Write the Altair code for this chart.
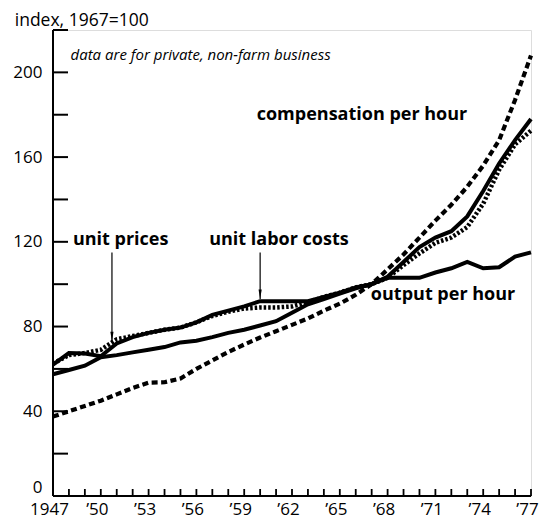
import altair as alt
import pandas as pd

years = list(range(1947, 1978))
output_per_hour = [57.5, 59.5, 61.5, 65.5, 66.5, 67.8, 69, 70.3, 72.5, 73.3, 75, 77, 78.5, 80.5, 82.5,
                   86.5, 90.5, 93, 95.5, 98, 100, 103, 103, 103, 105.5, 107.5, 110.5, 107.5, 108, 113, 115]
unit_labor_costs = [62, 67.5, 67.3, 66, 72, 75, 77, 78.5, 79.5, 82, 85.5, 87.5, 89.5, 92, 92,
                    92, 92, 94, 96, 98.5, 100, 103.5, 110.5, 117.5, 122, 125, 132, 144, 157, 168, 178]
unit_prices = [62.5, 66.5, 67.5, 69, 74, 75.5, 77, 78.5, 79.5, 82, 85, 87, 88.5, 89, 89,
               89.5, 91.5, 94, 96, 98.5, 100, 103, 109, 114.5, 119.5, 122, 127, 138, 154, 166, 172.5]
compensation_per_hour = [37.5, 40, 42.5, 45, 48, 51, 53.5, 53.7, 55.5, 60, 64, 68, 71.5, 74.8, 77.8,
                         80.8, 83.8, 87.5, 90.8, 95, 100, 107, 114, 122, 130, 137.5, 146, 156, 168, 187, 208]

x_label_years = years[::3]
x_label_texts = ["1947", "\u201950", "\u201953", "\u201956", "\u201959", "\u201962",
                 "\u201965", "\u201968", "\u201971", "\u201974", "\u201977"]
y_domain = [0, 220]
y_tick_values = list(range(0, 221, 20))
y_label_values = [0, 40, 80, 120, 160, 200]

title_text = "index, 1967=100"
title_pos = (1944.6, 222.0)
note_text = "data are for private, non-farm business"
note_pos = (1948.1, 206.0)

label_texts = ["compensation per hour", "unit prices", "unit labor costs", "output per hour"]
label_years = [1973.0, 1948.25, 1956.8, 1966.95]
label_values = [177.4, 118.4, 118.4, 92.5]
label_aligns = ["right", "left", "left", "left"]

arrow_years = [1950.7, 1960.0]
arrow_from = [115.0, 115.0]
arrow_to = [73.0, 93.0]

FONT = "Open Sans"
W, H = 478, 466
Y_TICK_PX, X_TICK_PX = 15, 7
y_tick_len = Y_TICK_PX * (years[-1] - years[0]) / W        # in years
x_tick_len = X_TICK_PX * (y_domain[1] - y_domain[0]) / H   # in index units

rows = []
for name, vals in [("output per hour", output_per_hour), ("unit labor costs", unit_labor_costs),
                   ("unit prices", unit_prices), ("compensation per hour", compensation_per_hour)]:
    for yr, v in zip(years, vals):
        rows.append({"year": yr, "value": v, "series": name})
df = pd.DataFrame(rows)

x_expr = " : ".join(f"datum.value == {y} ? '{t}'" for y, t in zip(x_label_years, x_label_texts)) + " : ''"
y_expr = "indexof([" + ",".join(str(v) for v in y_label_values) + "], datum.value) >= 0 ? datum.label : ''"

x_axis = alt.Axis(values=years, labelExpr=x_expr, title=None, grid=False, domain=False, ticks=False,
                  labelPadding=5, labelFontSize=17, labelFont=FONT, labelColor="black",
                  labelOffset=-4, labelFlush=False, labelOverlap=False)
y_axis = alt.Axis(values=y_tick_values, labelExpr=y_expr, title=None, grid=False, domain=False, ticks=False,
                  labelPadding=11, labelFontSize=17, labelFont=FONT, labelColor="black",
                  labelBaseline={"condition": {"test": "datum.value == 0", "value": "bottom"},
                                 "value": "middle"},
                  labelFlush=False, labelOverlap=False)

xs = alt.Scale(domain=[years[0], years[-1]], nice=False, zero=False)
ys = alt.Scale(domain=y_domain, nice=False, zero=False)
X = alt.X("year:Q", scale=xs, axis=x_axis)
Y = alt.Y("value:Q", scale=ys, axis=y_axis)

base = alt.Chart(df)

comp = base.transform_filter(alt.datum.series == "compensation per hour").mark_line(
    color="black", strokeWidth=4.2, strokeDash=[6, 3.5], strokeCap="butt").encode(x=X, y=Y)
prices = base.transform_filter(alt.datum.series == "unit prices").mark_line(
    color="black", strokeWidth=4.5, strokeDash=[2.5, 2], strokeCap="butt").encode(x=X, y=Y)
ulc = base.transform_filter(alt.datum.series == "unit labor costs").mark_line(
    color="black", strokeWidth=4).encode(x=X, y=Y)
oph = base.transform_filter(alt.datum.series == "output per hour").mark_line(
    color="black", strokeWidth=4).encode(x=X, y=Y)

# axis lines
dom_df = pd.DataFrame([
    {"year": years[0], "year2": years[-1], "value": y_domain[0], "value2": y_domain[0]},
    {"year": years[0], "year2": years[0], "value": y_domain[0], "value2": y_domain[1]},
])
domains = alt.Chart(dom_df).mark_rule(color="black", strokeWidth=2).encode(
    x=X, x2="year2:Q", y=Y, y2="value2:Q")

# y ticks pointing right, into the plot
yt_df = pd.DataFrame({"year": [years[0]] * len(y_tick_values),
                      "year2": [years[0] + y_tick_len] * len(y_tick_values),
                      "value": y_tick_values})
y_ticks = alt.Chart(yt_df).mark_rule(color="black", strokeWidth=2).encode(
    x=X, x2="year2:Q", y=Y)

# x ticks pointing up, into the plot
xt_df = pd.DataFrame({"year": years, "value": [y_domain[0]] * len(years),
                      "value2": [y_domain[0] + x_tick_len] * len(years)})
x_ticks = alt.Chart(xt_df).mark_rule(color="black", strokeWidth=1.8).encode(
    x=X, y=Y, y2="value2:Q")

lab_df = pd.DataFrame({"year": label_years, "value": label_values, "text": label_texts, "align": label_aligns})
labels_right = alt.Chart(lab_df).transform_filter(alt.datum.align == "right").mark_text(
    font=FONT, fontSize=18, fontWeight="bold", align="right", baseline="alphabetic", color="black").encode(
    x=X, y=Y, text="text:N")
labels_left = alt.Chart(lab_df).transform_filter(alt.datum.align == "left").mark_text(
    font=FONT, fontSize=18, fontWeight="bold", align="left", baseline="alphabetic", color="black").encode(
    x=X, y=Y, text="text:N")

note_df = pd.DataFrame({"year": [note_pos[0]], "value": [note_pos[1]], "text": [note_text]})
note = alt.Chart(note_df).mark_text(font=FONT, fontSize=15, fontStyle="italic", align="left",
                                    baseline="alphabetic", color="black").encode(x=X, y=Y, text="text:N")

title_df = pd.DataFrame({"year": [title_pos[0]], "value": [title_pos[1]], "text": [title_text]})
title = alt.Chart(title_df).mark_text(font=FONT, fontSize=17.5, align="left", baseline="alphabetic",
                                      color="black").encode(x=X, y=Y, text="text:N")

arr_df = pd.DataFrame({"year": arrow_years, "value": arrow_from, "value2": arrow_to})
arrow_lines = alt.Chart(arr_df).mark_rule(color="black", strokeWidth=1.2).encode(x=X, y=Y, y2="value2:Q")
arrow_heads = alt.Chart(arr_df).mark_point(
    shape="M -0.4 -2.4 L 0.4 -2.4 L 0 0 Z", filled=True, color="black", size=64, opacity=1, strokeWidth=0
).encode(x=X, y=alt.Y("value2:Q", scale=ys, axis=y_axis))

chart = alt.layer(
    comp, prices, ulc, oph, domains, y_ticks, x_ticks, arrow_lines, arrow_heads,
    labels_right, labels_left, note, title
).properties(
    width=W, height=H,
    padding={"left": 45, "top": 22, "right": 9, "bottom": 31},
    autosize=alt.AutoSizeParams(type="none"),
).configure_view(stroke=None).configure(background="white")

chart.save("out.html", embed_options={"renderer": "svg", "actions": False})
